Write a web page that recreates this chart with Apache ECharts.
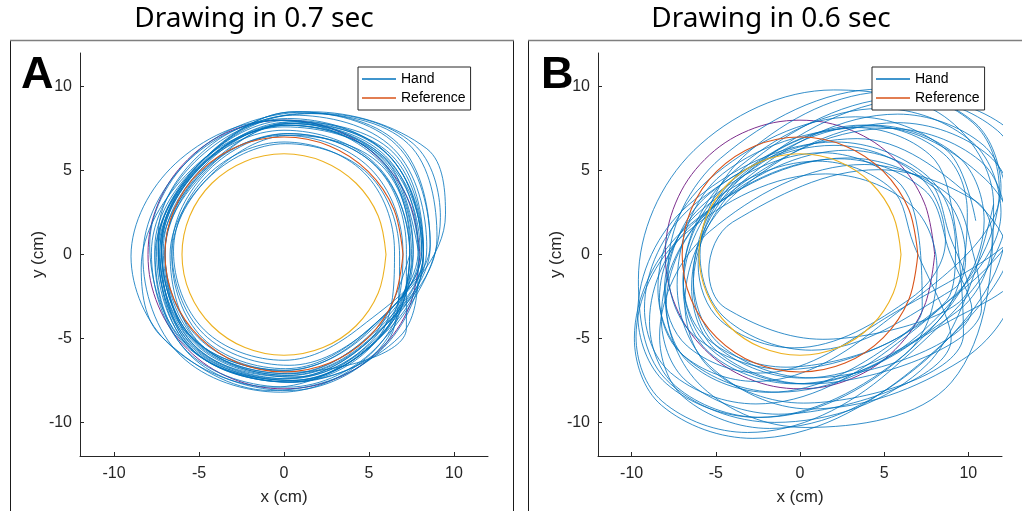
<!DOCTYPE html>
<html>
<head>
<meta charset="utf-8">
<script src="https://cdn.jsdelivr.net/npm/echarts@6/dist/echarts.min.js"></script>
<style>
html,body{margin:0;padding:0;background:#fff;}
#chart{width:1022px;height:511px;}
</style>
</head>
<body>
<div id="chart"></div>
<script>
// ---------- text ----------
const panelTitles = ['Drawing in 0.7 sec', 'Drawing in 0.6 sec'];
const panelLetters = ['A', 'B'];
const xAxisName = 'x (cm)';
const yAxisName = 'y (cm)';
const legendNames = ['Hand', 'Reference'];

// ---------- axes ----------
const axisRange = [-12, 12];
const xTickValues = [-10, -5, 0, 5, 10];
const yTickValues = [-10, -5, 0, 5, 10];

// ---------- reference circles (cm) ----------
const referenceR6 = [[6,0],[5.543,2.296],[4.243,4.243],[2.296,5.543],[0,6],[-2.296,5.543],[-4.243,4.243],[-5.543,2.296],[-6,0],[-5.543,-2.296],[-4.243,-4.243],[-2.296,-5.543],[0,-6],[2.296,-5.543],[4.243,-4.243],[5.543,-2.296],[6,0]];
const referenceR7 = [[7,0],[6.467,2.679],[4.950,4.950],[2.679,6.467],[0,7],[-2.679,6.467],[-4.950,4.950],[-6.467,2.679],[-7,0],[-6.467,-2.679],[-4.950,-4.950],[-2.679,-6.467],[0,-7],[2.679,-6.467],[4.950,-4.950],[6.467,-2.679],[7,0]];
const referenceR8 = [[8,0],[7.391,3.062],[5.657,5.657],[3.062,7.391],[0,8],[-3.062,7.391],[-5.657,5.657],[-7.391,3.062],[-8,0],[-7.391,-3.062],[-5.657,-5.657],[-3.062,-7.391],[0,-8],[3.062,-7.391],[5.657,-5.657],[7.391,-3.062],[8,0]];

// ---------- hand trajectories, panel A (one row per loop, cm) ----------
const handA = [
 [[7.9,0.2],[5.89,5.79],[0.3,7.8],[-4.86,5.36],[-7.3,0.2],[-5.29,-5.39],[0.3,-7.4],[5.46,-4.96]],
 [[8.4,0.4],[6.42,6.32],[0.5,8.3],[-4.75,5.65],[-7.4,0.4],[-5.42,-5.52],[0.5,-7.5],[5.75,-4.85]],
 [[7.4,0],[5.44,5.24],[0.2,7.2],[-4.74,4.94],[-7.0,0],[-5.04,-5.24],[0.2,-7.2],[5.14,-4.94]],
 [[8.6,0.5],[6.71,6.61],[0.6,8.5],[-4.6,5.7],[-7.4,0.5],[-5.51,-5.61],[0.6,-7.5],[5.8,-4.7]],
 [[7.0,0.1],[5.05,5.15],[0,7.1],[-4.85,4.95],[-7,0.1],[-5.05,-4.95],[0,-6.9],[4.85,-4.75]],
 [[7.9,0.3],[5.97,5.87],[0.4,7.8],[-4.64,5.34],[-7.1,0.3],[-5.17,-5.27],[0.4,-7.2],[5.44,-4.74]],
 [[9.0,1.0],[7.3,6.6],[1.2,8.4],[-4.6,5.8],[-7.6,0.4],[-5.8,-5.4],[0.6,-7.6],[6.4,-4.6]],
 [[6.8,-0.1],[4.98,4.78],[0.1,6.6],[-4.5,4.5],[-6.6,-0.1],[-4.78,-4.98],[0.1,-6.8],[4.7,-4.7]],
 [[8.1,0.2],[6.09,5.99],[0.3,8.0],[-4.94,5.44],[-7.5,0.2],[-5.49,-5.59],[0.3,-7.6],[5.54,-5.04]],
 [[7.6,0.0],[5.6,5.6],[-0.4,8.0],[-6.4,5.4],[-9.0,-0.1],[-6.7,-5.4],[-0.6,-7.9],[5.0,-5.3]],
 [[7.6,0.3],[5.64,5.74],[0.2,7.7],[-4.82,5.32],[-7.2,0.3],[-5.24,-5.14],[0.2,-7.1],[5.22,-4.72]],
 [[8.2,0.1],[6.32,5.92],[0.5,7.8],[-4.56,5.16],[-7.2,0.1],[-5.32,-5.72],[0.5,-7.6],[5.56,-4.96]],
 [[6.5,0.2],[4.69,4.89],[0,6.7],[-4.51,4.71],[-6.5,0.2],[-4.69,-4.49],[0,-6.3],[4.51,-4.31]],
 [[8.6,0.6],[6.62,6.52],[0.7,8.5],[-4.55,5.85],[-7.2,0.6],[-5.22,-5.32],[0.7,-7.3],[5.95,-4.65]],
 [[8.2,-0.2],[6.11,5.61],[0.3,7.7],[-5.06,5.16],[-7.6,-0.2],[-5.51,-6.01],[0.3,-8.1],[5.66,-5.56]],
 [[7.4,0.4],[5.52,5.82],[0.1,7.7],[-4.8,5.3],[-7.2,0.4],[-5.32,-5.02],[0.1,-6.9],[5.0,-4.5]],
 [[9.5,2.4],[8.4,6.3],[1.6,8.5],[-4.9,6.3],[-7.9,0.6],[-5.8,-5.3],[0.2,-7.6],[6.8,-4.9]],
 [[7.9,-0.1],[5.7,5.8],[-0.2,8.0],[-5.76,5.46],[-8.3,-0.1],[-6.1,-6.0],[-0.2,-8.2],[5.36,-5.66]],
 [[7.5,0],[5.72,5.32],[0.4,7.1],[-4.32,4.72],[-6.7,0],[-4.92,-5.32],[0.4,-7.1],[5.12,-4.72]],
 [[8.0,0.3],[5.9,5.7],[0.0,7.6],[-5.5,5.0],[-8.4,-0.8],[-7.2,-4.9],[-0.8,-8.1],[5.6,-5.8]],
 [[8.2,0.3],[6.4,6.1],[0.6,7.9],[-4.34,5.24],[-7.0,0.3],[-5.2,-5.5],[0.6,-7.3],[5.54,-4.64]],
 [[8.2,0.1],[6.08,5.98],[0.2,8.1],[-5.23,5.53],[-7.8,0.1],[-5.68,-5.78],[0.2,-7.9],[5.63,-5.33]],
 [[9.2,2.2],[7.6,6.6],[2.0,8.4],[-4.2,6.6],[-7.4,1.2],[-5.6,-4.8],[0.6,-7.0],[7.2,-4.4]],
 [[7.2,0.3],[5.33,5.33],[0.3,7.2],[-4.43,5.03],[-6.6,0.3],[-4.73,-4.73],[0.3,-6.6],[5.03,-4.43]],
 [[8.1,0.2],[6.12,5.92],[0.4,7.9],[-4.77,5.37],[-7.3,0.2],[-5.32,-5.52],[0.4,-7.5],[5.57,-4.97]],
 [[7.4,0],[5.39,5.39],[0,7.4],[-5.07,5.07],[-7.4,0],[-5.39,-5.39],[0,-7.4],[5.07,-5.07],[7.4,0]]
];

// ---------- hand trajectories, panel B (one row per loop, cm) ----------
const handB = [
 [[10.44,2.01],[8.75,6.18],[3.31,8.20],[-5.45,4.43],[-8.44,-2.01],[-6.75,-6.18],[-1.31,-8.20],[7.45,-4.43]],
 [[11.84,3.88],[10.23,7.88],[4.80,9.85],[-4.71,5.74],[-7.84,-0.88],[-6.23,-4.88],[-0.80,-6.85],[8.71,-2.74]],
 [[9.24,0.51],[7.55,4.68],[2.11,6.70],[-6.65,2.93],[-9.64,-3.51],[-7.95,-7.68],[-2.51,-9.70],[6.25,-5.93]],
 [[8.14,-0.90],[6.59,2.94],[1.52,4.80],[-6.90,1.17],[-9.74,-4.90],[-8.19,-8.74],[-3.12,-10.60],[5.30,-6.97]],
 [[12.34,2.86],[10.87,6.53],[5.81,8.36],[-3.37,4.37],[-6.34,-1.86],[-4.87,-5.53],[0.19,-7.36],[9.37,-3.37]],
 [[11.42,0.98],[10.44,3.18],[4.64,5.05],[-4.00,1.93],[-5.42,-0.98],[-4.44,-3.18],[1.36,-5.05],[10.00,-1.93]],
 [[8.94,0.99],[7.54,4.49],[2.83,6.21],[-5.26,2.71],[-7.94,-2.99],[-6.54,-6.49],[-1.83,-8.21],[6.26,-4.71]],
 [[13.34,3.38],[11.73,7.38],[6.30,9.35],[-3.21,5.24],[-6.34,-1.38],[-4.73,-5.38],[0.70,-7.35],[10.21,-3.24]],
 [[8.94,0.00],[7.39,3.84],[2.32,5.70],[-6.10,2.07],[-8.94,-4.00],[-7.39,-7.84],[-2.32,-9.70],[6.10,-6.07]],
 [[10.94,2.00],[9.39,5.84],[4.32,7.70],[-4.10,4.07],[-6.94,-2.00],[-5.39,-5.84],[-0.32,-7.70],[8.10,-4.07]],
 [[9.94,2.49],[8.54,5.99],[3.83,7.71],[-4.26,4.21],[-6.94,-1.49],[-5.54,-4.99],[-0.83,-6.71],[7.26,-3.21]],
 [[7.05,1.11],[5.70,4.45],[1.35,6.06],[-5.66,3.05],[-8.05,-2.11],[-6.70,-5.45],[-2.35,-7.06],[4.66,-4.05]],
 [[14.04,3.54],[12.50,7.38],[7.09,9.31],[-3.18,4.83],[-6.44,-1.94],[-4.90,-5.78],[0.51,-7.71],[10.78,-3.23]],
 [[10.34,-0.14],[8.87,3.53],[3.81,5.36],[-5.37,1.37],[-8.34,-4.86],[-6.87,-8.53],[-1.81,-10.36],[7.37,-6.37]],
 [[12.24,1.74],[10.70,5.58],[5.29,7.51],[-4.98,3.03],[-8.24,-3.74],[-6.70,-7.58],[-1.29,-9.51],[8.98,-5.03]],
 [[6.75,0.61],[5.40,3.95],[1.05,5.56],[-5.96,2.55],[-8.35,-2.61],[-7.00,-5.95],[-2.65,-7.56],[4.36,-4.55]],
 [[11.94,4.00],[10.39,7.84],[5.32,9.70],[-3.10,6.07],[-5.94,0.00],[-4.39,-3.84],[0.68,-5.70],[9.10,-2.07]],
 [[9.84,-0.22],[8.23,3.78],[2.80,5.75],[-6.71,1.64],[-9.84,-4.98],[-8.23,-8.98],[-2.80,-10.95],[6.71,-6.84]],
 [[12.84,1.88],[11.23,5.88],[5.80,7.85],[-3.71,3.74],[-6.84,-2.88],[-5.23,-6.88],[0.20,-8.85],[9.71,-4.74]],
 [[9.05,2.61],[7.70,5.95],[3.35,7.56],[-3.66,4.55],[-6.05,-0.61],[-4.70,-3.95],[-0.35,-5.56],[6.66,-2.55]],
 [[8.64,0.80],[7.09,4.64],[2.02,6.50],[-6.40,2.87],[-9.24,-3.20],[-7.69,-7.04],[-2.62,-8.90],[5.80,-5.27]],
 [[11.94,2.51],[10.25,6.68],[4.81,8.70],[-3.95,4.93],[-6.94,-1.51],[-5.25,-5.68],[0.19,-7.70],[8.95,-3.93]],
 [[13.2,-0.5],[11.0,4.5],[4.5,7.6],[-4.6,4.8],[-7.3,-1.8],[-5.4,-6.6],[0.6,-9.2],[9.6,-6.3]],
 [[12.8,-1.5],[10.4,3.2],[3.4,6.9],[-5.4,3.6],[-8.0,-2.6],[-5.8,-7.9],[0.3,-10.3],[9.0,-7.6]],
 [[11.5,3.0],[8.6,8.2],[2.0,9.8],[-6.3,6.2],[-9.6,-1.5],[-8.0,-7.4],[-1.5,-10.0],[7.6,-6.5],[11.5,3.0]]
];

// ---------- style constants ----------
const COLOR_HAND = '#0072BD';
const COLOR_R7 = '#D95319';
const COLOR_R6 = '#EDB120';
const COLOR_R8 = '#7E2F8E';
const AXIS_COLOR = '#262626';
const SANS = '"Liberation Sans", Arial, Helvetica, sans-serif';
const SMOOTH = 0.36;

const grids = [
  {left: 80, top: 53, width: 408, height: 403},
  {left: 598, top: 53, width: 404, height: 403}
];
const legendLefts = [358, 872];
const titleCenters = [254, 771];
const letterLefts = [21, 541];

function makeAxis(i, isX) {
  const ticks = isX ? xTickValues : yTickValues;
  return {
    type: 'value', gridIndex: i, min: axisRange[0], max: axisRange[1],
    position: isX ? 'bottom' : 'left',
    axisLine: {show: true, onZero: false, lineStyle: {color: AXIS_COLOR, width: 1}},
    axisTick: {show: true, inside: true, length: 4, customValues: ticks, lineStyle: {color: AXIS_COLOR, width: 1}},
    axisLabel: {show: true, customValues: ticks, color: AXIS_COLOR, fontSize: 16, fontFamily: SANS, margin: isX ? 10 : 8},
    splitLine: {show: false},
    name: isX ? xAxisName : yAxisName,
    nameLocation: 'middle',
    nameGap: 33,
    nameMoveOverlap: false,
    nameTextStyle: {color: AXIS_COLOR, fontSize: 17, fontFamily: SANS}
  };
}

function lineSeries(i, name, data, color, width, z) {
  return {
    name: name, type: 'line', xAxisIndex: i, yAxisIndex: i,
    data: data, smooth: SMOOTH, symbol: 'none', showSymbol: false,
    lineStyle: {color: color, width: width}, itemStyle: {color: color},
    z: z, silent: true, animation: false, emphasis: {disabled: true}, clip: true
  };
}

const series = [];
[handA, handB].forEach((hand, i) => {
  series.push(lineSeries(i, 'Reference 8 cm', referenceR8, COLOR_R8, 1, 1));
  series.push(lineSeries(i, 'Hand', hand.flat(), COLOR_HAND, 0.8, 2));
  series.push(lineSeries(i, 'Reference', referenceR7, COLOR_R7, 1.1, 3));
  series.push(lineSeries(i, 'Reference 6 cm', referenceR6, COLOR_R6, 1.1, 3));
});

const legends = legendLefts.map(left => ({
  show: true,
  data: legendNames.map(n => ({name: n, icon: 'rect'})),
  orient: 'vertical',
  left: left, top: 67, z: 10,
  padding: [4, 5, 4, 4], itemGap: 3, itemWidth: 34, itemHeight: 1.6,
  backgroundColor: '#ffffff', borderColor: AXIS_COLOR, borderWidth: 1, borderRadius: 0,
  textStyle: {color: '#000', fontSize: 14, lineHeight: 16, fontFamily: SANS},
  selectedMode: false
}));

const graphics = [
  {type: 'line', shape: {x1: 10.5, y1: 40, x2: 10.5, y2: 512}, style: {stroke: '#1a1a1a', lineWidth: 1}, z: 20},
  {type: 'line', shape: {x1: 513.5, y1: 40, x2: 513.5, y2: 512}, style: {stroke: '#1a1a1a', lineWidth: 1}, z: 20},
  {type: 'line', shape: {x1: 10, y1: 40.5, x2: 514, y2: 40.5}, style: {stroke: '#7f7f7f', lineWidth: 1.5}, z: 20},
  {type: 'line', shape: {x1: 528.5, y1: 40, x2: 528.5, y2: 512}, style: {stroke: '#1a1a1a', lineWidth: 1}, z: 20},
  {type: 'line', shape: {x1: 528, y1: 40.5, x2: 1022, y2: 40.5}, style: {stroke: '#7f7f7f', lineWidth: 1.5}, z: 20}
];
panelTitles.forEach((t, i) => graphics.push({
  type: 'text', x: titleCenters[i], y: 19.5, z: 20,
  style: {text: t, fill: '#000', font: '28px "Noto Sans", "Open Sans", sans-serif', align: 'center', verticalAlign: 'middle'}
}));
panelLetters.forEach((t, i) => graphics.push({
  type: 'text', x: letterLefts[i], y: 76, z: 20,
  style: {text: t, fill: '#000', font: 'bold 45px "Liberation Sans", Arial, sans-serif', align: 'left', verticalAlign: 'middle'}
}));

const chart = echarts.init(document.getElementById('chart'), null, {renderer: 'canvas'});
chart.setOption({
  animation: false,
  backgroundColor: '#ffffff',
  grid: grids.map(g => Object.assign({containLabel: false, outerBoundsMode: 'none'}, g)),
  xAxis: [0, 1].map(i => makeAxis(i, true)),
  yAxis: [0, 1].map(i => makeAxis(i, false)),
  legend: legends,
  tooltip: {show: false},
  graphic: graphics,
  series: series
});
</script>
</body>
</html>
